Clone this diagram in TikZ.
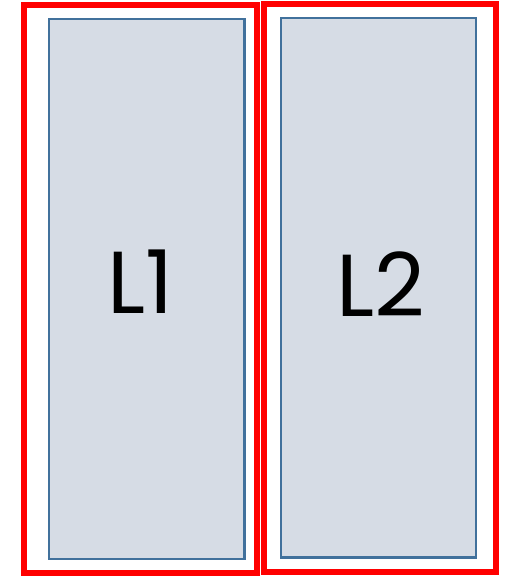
\documentclass[tikz,border=0pt]{standalone}
\usepackage{fontspec}
\setmainfont{Poppins}
\usepackage{tikz}
\definecolor{paneblue}{RGB}{65,113,156}
\definecolor{panefill}{RGB}{214,220,229}
\tikzstyle{redframe}=[rectangle,draw=red,line width=6pt,inner sep=0pt]
\tikzstyle{pane}=[rectangle,draw=paneblue,fill=panefill,line width=2.2pt,inner sep=0pt]
\tikzstyle{lbl}=[font=\fontsize{88}{90}\selectfont,inner sep=0pt]

\begin{document}
\begin{tikzpicture}[x=1pt,y=-1pt]
  \useasboundingbox (0,0) rectangle (513,576);
  % outer red frames
  \node[redframe,minimum width=232.5pt,minimum height=568pt] (f1) at (140.25,289) {};
  \node[redframe,minimum width=231.7pt,minimum height=568.5pt] (f2) at (379.85,287.75) {};
  % inner panes
  \node[pane,minimum width=195.5pt,minimum height=540pt] (p1) at (146.75,289) {};
  \node[pane,minimum width=195pt,minimum height=539.5pt] (p2) at (378.5,287.75) {};
  \node[lbl] (l1) at (141,282) {L1};
  \node[lbl] (l2) at (381,284) {L2};
\end{tikzpicture}
\end{document}
